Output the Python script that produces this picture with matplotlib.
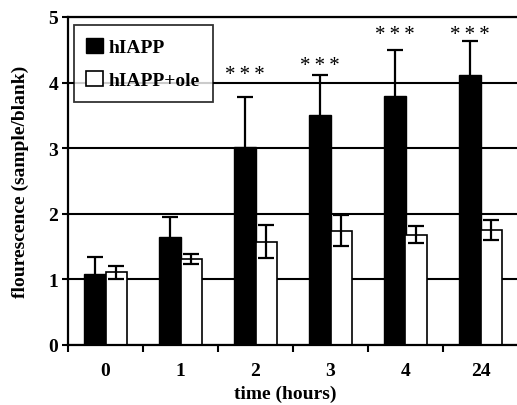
import matplotlib
matplotlib.use("Agg")
import matplotlib.pyplot as plt
import numpy as np
from matplotlib.ticker import FixedLocator

# ---- data ----
categories = ["0", "1", "2", "3", "4", "24"]
hiapp = [1.08, 1.65, 3.02, 3.50, 3.79, 4.12]
hiapp_err = [0.26, 0.30, 0.76, 0.62, 0.70, 0.51]
hiapp_ole = [1.11, 1.31, 1.575, 1.745, 1.68, 1.75]
hiapp_ole_err = [0.10, 0.08, 0.25, 0.23, 0.13, 0.15]
sig_labels = ["", "", "*\u2009*\u2009*", "*\u2009*\u2009*", "*\u2009*\u2009*", "*\u2009*\u2009*"]
sig_y = [0, 0, 4.06, 4.19, 4.66, 4.66]
series_names = ["hIAPP", "hIAPP+ole"]
yticks = [0, 1, 2, 3, 4, 5]

plt.rcParams['font.family'] = ['Liberation Serif', 'DejaVu Serif']
plt.rcParams['font.weight'] = 'bold'

fig = plt.figure(figsize=(5.17, 4.06), dpi=100)
ax = fig.add_axes([68/517, 60/406, 450/517, 328/406])

x = np.arange(len(categories))
w = 0.29
off = 0.145
ekw = dict(ecolor='black', elinewidth=1.6, capsize=6, capthick=1.6)
ax.bar(x - off, hiapp, w, color='black', edgecolor='black', linewidth=1.0,
       label=series_names[0], zorder=2)
ax.errorbar(x - off, hiapp, yerr=hiapp_err, fmt='none', zorder=3, **ekw)
ax.bar(x + off, hiapp_ole, w, color='white', edgecolor='black', linewidth=1.2,
       label=series_names[1], zorder=2)
ax.errorbar(x + off, hiapp_ole, yerr=hiapp_ole_err, fmt='none', zorder=3, **ekw)

for xi, lab, yy in zip(x, sig_labels, sig_y):
    if lab:
        ax.text(xi - off, yy, lab, ha='center', va='baseline', fontsize=15,
                fontweight='normal', family=['Liberation Serif', 'DejaVu Serif'])

ax.set_xlim(-0.5, 5.5)
ax.set_ylim(0, 5)
ax.set_yticks(yticks)
ax.set_xticks(x)
ax.set_xticklabels(categories)
ax.xaxis.set_minor_locator(FixedLocator(np.arange(-0.5, 5.0, 1.0)))
ax.tick_params(axis='x', which='major', length=0, labelsize=14, pad=12)
ax.tick_params(axis='x', which='minor', length=5, width=1.5, direction='out')
ax.tick_params(axis='y', which='major', length=4, width=1.5, direction='out',
               labelsize=14, pad=3)

ax.yaxis.grid(True, color='black', linewidth=1.5)
ax.set_axisbelow(True)
for s in ['left', 'bottom', 'top']:
    ax.spines[s].set_linewidth(1.6)
ax.spines['right'].set_visible(False)

ax.set_ylabel("flourescence (sample/blank)", fontsize=14, fontweight='bold')
ax.set_xlabel("time (hours)", fontsize=14, fontweight='bold')
ax.xaxis.set_label_coords((285 - 68) / 450, -(386 - 346) / 328)
ax.yaxis.set_label_coords(-(68 - 29) / 450, 0.5)

leg = ax.legend(loc='upper left', bbox_to_anchor=(0.013, 0.976), frameon=True,
                fancybox=False, prop={'family': 'Liberation Serif', 'weight': 'bold', 'size': 14},
                handlelength=0.85, handleheight=0.85, handletextpad=0.3, labelspacing=0.75,
                borderpad=0.65, borderaxespad=0)
leg.get_frame().set_edgecolor('black')
leg.get_frame().set_linewidth(1.3)
leg.set_zorder(5)

fig.savefig("out.png", dpi=100)
